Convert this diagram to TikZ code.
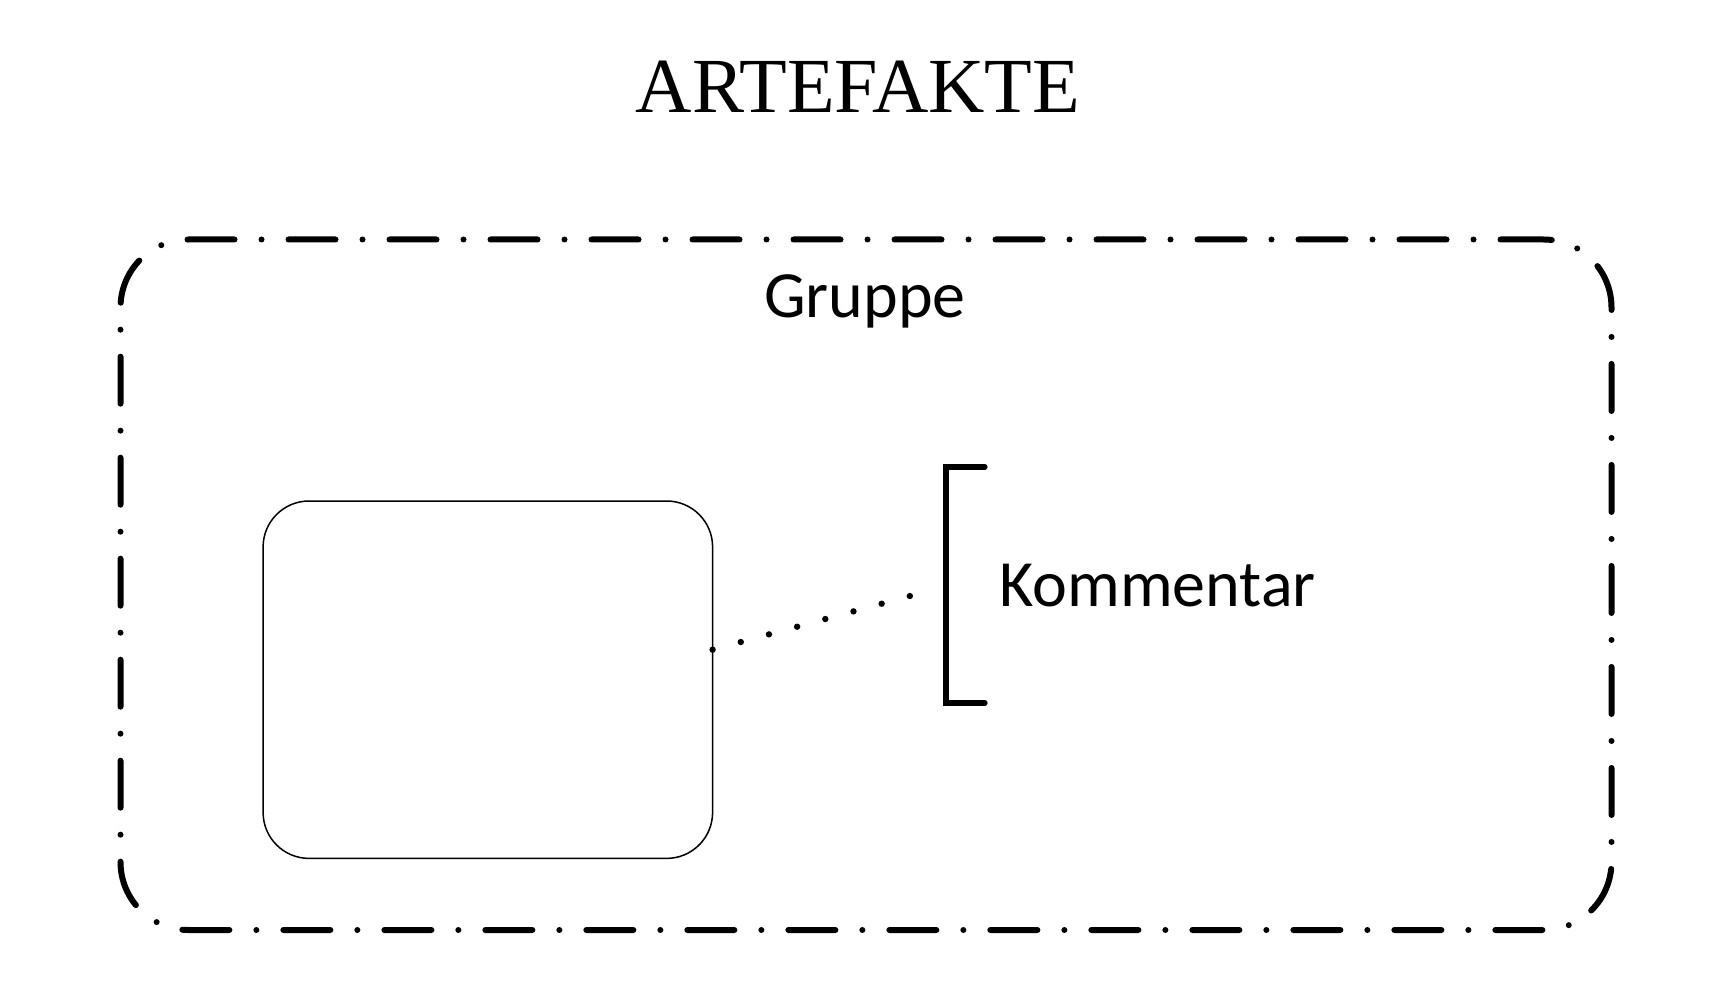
\documentclass[tikz,border=0pt]{standalone}
\usepackage{fontspec}
\setmainfont{Liberation Serif}
\newfontfamily\calib{Carlito}
\begin{document}
\begin{tikzpicture}[x=0.5pt,y=-0.5pt,
  groupbox/.style={draw, line width=3pt, rounded corners=34pt, line cap=round,
    dash pattern=on 23.5pt off 13.5pt on 0pt off 13.5pt, dash phase=2pt,
    minimum width=745.5pt, minimum height=345.25pt, inner sep=0pt, outer sep=0pt},
  artbox/.style={draw, line width=0.75pt, rounded corners=23pt,
    minimum width=224.75pt, minimum height=178.7pt, inner sep=0pt, outer sep=0pt},
  dotline/.style={line width=3.2pt, line cap=round, dash pattern=on 0pt off 14.6pt},
  bracketline/.style={line width=2.6pt, line cap=round, line join=miter},
  lbl/.style={font=\calib\fontsize{33}{40}\selectfont, inner sep=0pt, anchor=base}]
\useasboundingbox (0,0) rectangle (1719,1000);
\node[font=\fontsize{39}{45}\selectfont, inner sep=0pt, anchor=base] (title) at (858,113) {ARTEFAKTE};
\node[groupbox] (grp) at (866,584.75) {};
\node[lbl] (gruppe) at (865,318) {Gruppe};
\node[artbox] (art) at (487.85,679.7) {};
\coordinate (bt) at (985,467);
\coordinate (btl) at (946,467);
\coordinate (bbl) at (946,703);
\coordinate (bb) at (985,703);
\draw[bracketline] (bt) -- (btl) -- (bbl) -- (bb);
\node[lbl, anchor=base west] (komm) at (999,606) {Kommentar};
\coordinate (dend) at (921,593);
\draw[dotline] ([yshift=15pt]art.east) -- (dend);
\end{tikzpicture}
\end{document}
